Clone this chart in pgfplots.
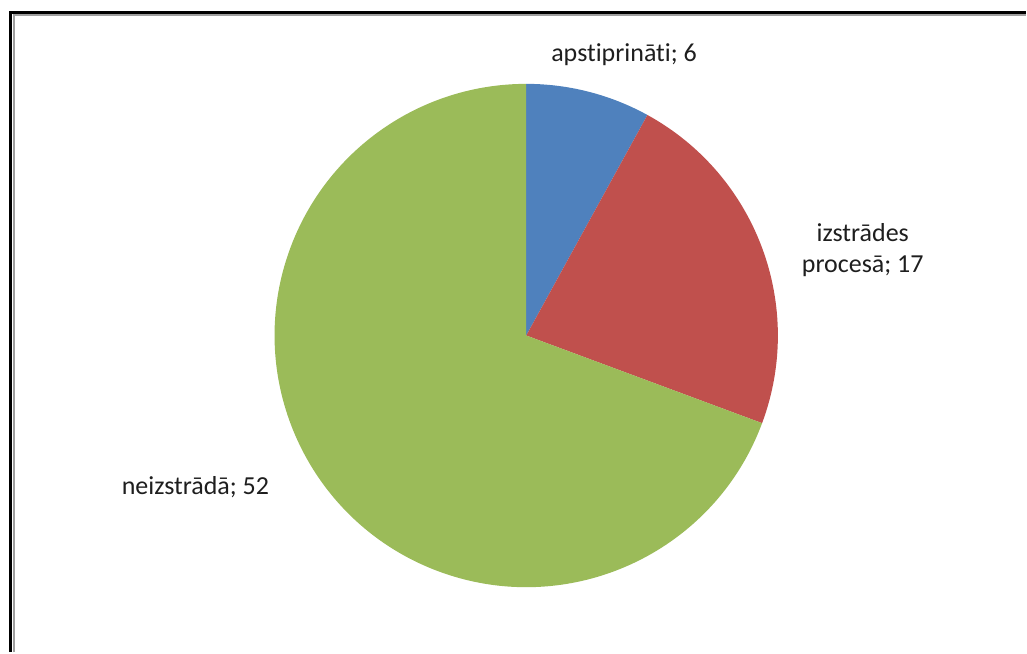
\documentclass[border=0pt]{standalone}
\usepackage{pgfplots}
\usepackage{pgfplotstable}
\pgfplotsset{compat=1.18}
\usepackage{fontspec}
\setmainfont{Carlito}[RawFeature={-liga}]
\definecolor{pieblue}{HTML}{4F81BD}
\definecolor{piered}{HTML}{C0504D}
\definecolor{piegreen}{HTML}{9BBB59}
\definecolor{txt}{HTML}{1E1E1E}
\pgfplotstableread{
label value
apstiprinati 6
izstrades 17
neizstrada 52
}\piedata
\pgfplotstablegetelem{0}{value}\of\piedata \let\va\pgfplotsretval
\pgfplotstablegetelem{1}{value}\of\piedata \let\vb\pgfplotsretval
\pgfplotstablegetelem{2}{value}\of\piedata \let\vc\pgfplotsretval
\pgfmathsetmacro\total{\va+\vb+\vc}
\pgfmathsetmacro\aA{90-\va/\total*360}
\pgfmathsetmacro\aB{\aA-\vb/\total*360}
\pgfmathsetmacro\aC{\aB-\vc/\total*360}
\tikzset{lab/.style={txt, anchor=base, inner sep=0pt, font=\fontsize{26}{31.6}\selectfont}}
\begin{document}
\begin{tikzpicture}
\begin{axis}[
  x=1pt, y=1pt, scale only axis,
  xmin=0, xmax=1027, ymin=0, ymax=653,
  hide axis, clip=false,
]
\path (axis cs:0,0) rectangle (axis cs:1027,653);
% frame
\draw[black, line width=3pt] (axis cs:10.5,0) -- (axis cs:10.5,640.5) -- (axis cs:1027,640.5);
\draw[gray!75, line width=2pt] (axis cs:14,0) -- (axis cs:14,638) -- (axis cs:1027,638);
% slices
\fill[pieblue] (axis cs:527,317) -- ++(90:252pt) arc[start angle=90, end angle=\aA, radius=252pt] -- cycle;
\fill[piered] (axis cs:527,317) -- ++(\aA:252pt) arc[start angle=\aA, end angle=\aB, radius=252pt] -- cycle;
\fill[piegreen] (axis cs:527,317) -- ++(\aB:252pt) arc[start angle=\aB, end angle=\aC, radius=252pt] -- cycle;
% labels
\node[lab] at (axis cs:625,591.3) {apstiprināti; 6};
\node[lab] at (axis cs:864,411.3) {izstrādes};
\node[lab] at (axis cs:864,379.7) {procesā; 17};
\node[lab] at (axis cs:195.7,158) {neizstrādā; 52};
\end{axis}
\end{tikzpicture}
\end{document}
